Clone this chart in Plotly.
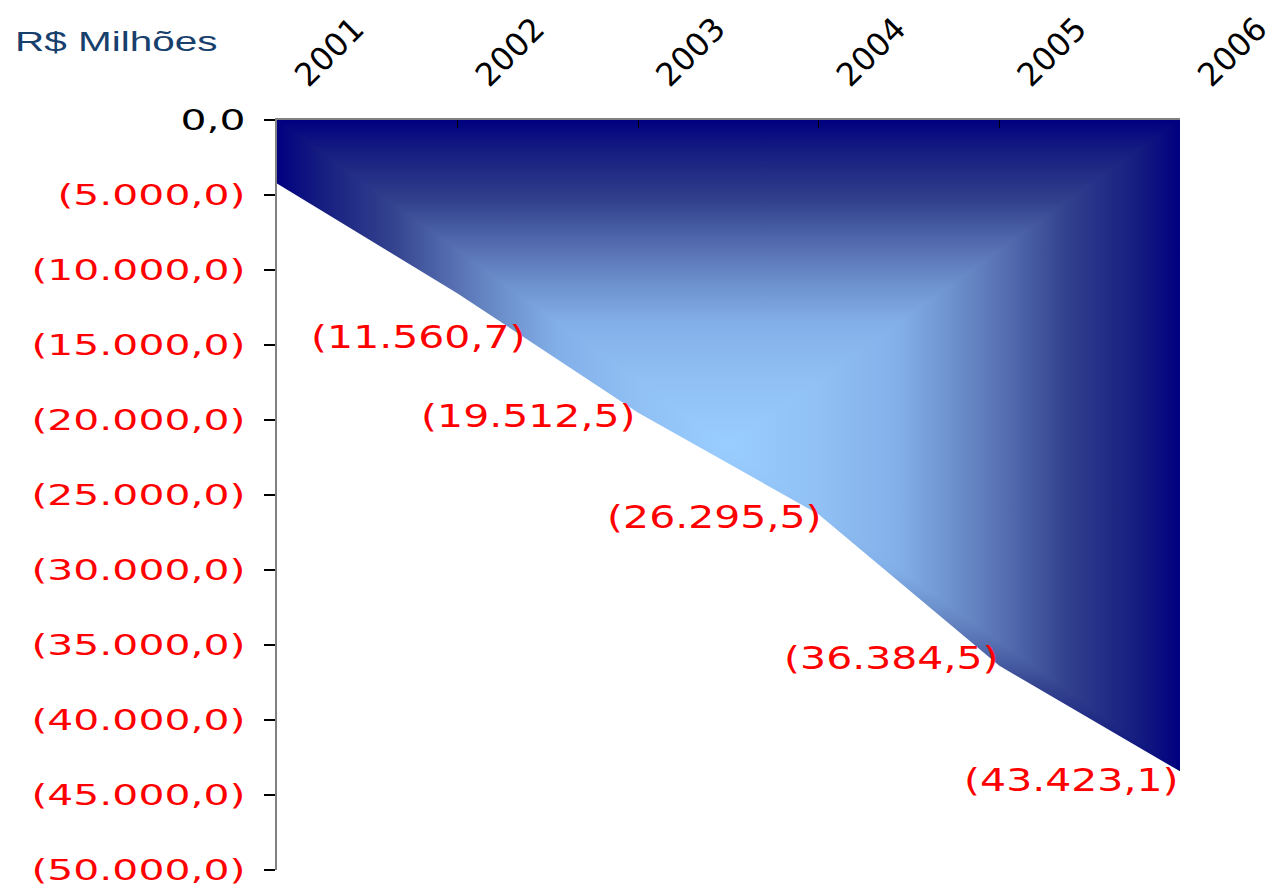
import plotly.graph_objects as go

# ---- data ----
categories = ["2001", "2002", "2003", "2004", "2005", "2006"]
values = [-4240.0, -11560.7, -19512.5, -26295.5, -36384.5, -43423.1]
label_texts = ["", "(11.560,7)", "(19.512,5)", "(26.295,5)", "(36.384,5)", "(43.423,1)"]
ytick_values = [0, -5000, -10000, -15000, -20000, -25000, -30000, -35000, -40000, -45000, -50000]
ytick_labels = ["0,0", "(5.000,0)", "(10.000,0)", "(15.000,0)", "(20.000,0)", "(25.000,0)",
                "(30.000,0)", "(35.000,0)", "(40.000,0)", "(45.000,0)", "(50.000,0)"]

# ---- styling / placement ----
label_xshift = [0, 69, -1, 4, 1, 0]
label_yshift = [0, -44, -3, -3, 8, -9]
# gradient: distance from centre (0) to edge (1) of the filled area's box
grad_out = [[0.0, "#9ACDFF"], [0.2, "#90C0F4"], [0.38, "#82AFE8"], [0.5, "#6C90CB"],
            [0.6, "#5872B4"], [0.75, "#32418D"], [0.9, "#161E80"], [1.0, "#000080"]]
grad_in = [[round(1 - p, 4), c] for p, c in reversed(grad_out)]
# edge -> centre -> edge across the full width
grad_across = ([[round(p / 2, 4), c] for p, c in grad_in]
               + [[round(0.5 + p / 2, 4), c] for p, c in grad_out[1:]])

xpos = list(range(len(categories)))
ymin = min(values)
x0, x1 = xpos[0], xpos[-1]
cx, cy = (x0 + x1) / 2, ymin / 2

ytext = []
for v, t in zip(ytick_values, ytick_labels):
    col = "black" if v == 0 else "red"
    ytext.append(f'<span style="color:{col}">{t}</span>')

fig = go.Figure()
# rectangular "from centre" gradient: horizontal base + top/bottom triangles
fig.add_trace(go.Scatter(
    x=[x0, x1, x1, x0, x0], y=[0, 0, ymin, ymin, 0], mode="lines", fill="toself",
    line=dict(width=0),
    fillgradient=dict(type="horizontal", start=x0, stop=x1, colorscale=grad_across),
    hoverinfo="skip", showlegend=False,
))
tri = [
    ([x0, x1, cx, x0], [0, 0, cy, 0], cy, 0, grad_out),              # top
    ([x0, x1, cx, x0], [ymin, ymin, cy, ymin], ymin, cy, grad_in),   # bottom
]
for tx, ty, st, sp, cs in tri:
    fig.add_trace(go.Scatter(
        x=tx, y=ty, mode="lines", fill="toself", line=dict(width=0),
        fillgradient=dict(type="vertical", start=st, stop=sp, colorscale=cs),
        hoverinfo="skip", showlegend=False,
    ))
# white mask below the data line (outside the area)
fig.add_trace(go.Scatter(x=xpos, y=[ytick_values[-1]] * len(xpos), mode="lines",
                         line=dict(width=0), hoverinfo="skip", showlegend=False))
fig.add_trace(go.Scatter(x=xpos, y=values, mode="lines", fill="tonexty", fillcolor="white",
                         line=dict(width=0, color="white"), hoverinfo="skip", showlegend=False))

for i, (xp, v, t) in enumerate(zip(xpos, values, label_texts)):
    if not t:
        continue
    fig.add_annotation(x=xp, y=v, text=t, showarrow=False, xanchor="right", yanchor="middle",
                       align="right", xshift=label_xshift[i], yshift=label_yshift[i],
                       font=dict(family="DejaVu Sans", size=32, color="red"))

fig.update_layout(
    width=1273, height=882,
    margin=dict(l=269, r=101, t=112, b=20, autoexpand=False),
    paper_bgcolor="white", plot_bgcolor="white",
    title=dict(text="R$ Milhões", x=7 / 1273, xanchor="left", xref="container",
               y=1 - 34 / 882, yanchor="middle", yref="container",
               font=dict(family="Liberation Sans", size=27, color="#17406D")),
    xaxis=dict(side="top", range=[x0, x1], showgrid=False, zeroline=False, automargin=False,
               tickvals=xpos, ticktext=categories,
               showline=True, linecolor="#808080", linewidth=2,
               ticks="inside", ticklen=8, tickcolor="black", tickwidth=1,
               tickangle=-45, ticklabelshift=20, ticklabelstandoff=12,
               tickfont=dict(family="DejaVu Sans", size=32, color="black")),
    yaxis=dict(range=[ytick_values[-1], ytick_values[0]], showgrid=False, zeroline=False,
               automargin=False,
               showline=True, linecolor="#808080", linewidth=2,
               ticks="outside", ticklen=11, tickcolor="black", tickwidth=2,
               tickvals=ytick_values, ticktext=ytext, ticklabelstandoff=13,
               tickfont=dict(family="DejaVu Sans", size=28, color="red")),
)

# widen the horizontal texts (the reference uses a very wide face)
post = """
var gd = document.getElementById('{plot_id}');
function rsStretch(){
  var specs = [['g.ytick text', 1.46], ['g.annotation text', 1.28], ['text.gtitle', 1.5]];
  specs.forEach(function(s){
    gd.querySelectorAll(s[0]).forEach(function(el){
      el.removeAttribute('textLength');
      var w = el.getComputedTextLength();
      el.setAttribute('lengthAdjust', 'spacingAndGlyphs');
      el.setAttribute('textLength', (w * s[1]).toFixed(1));
    });
  });
}
rsStretch();
if (gd.on) { gd.on('plotly_afterplot', rsStretch); }
"""

fig.write_html("out.html", post_script=post)
